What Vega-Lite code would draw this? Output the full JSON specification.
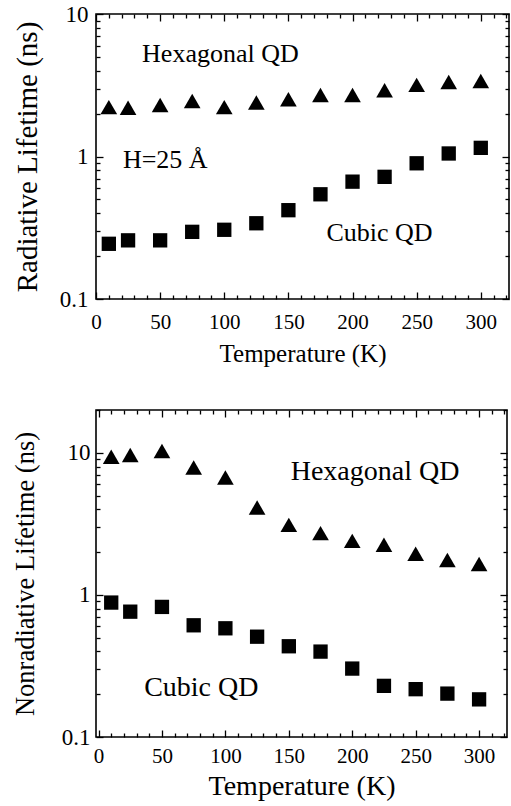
{
  "$schema": "https://vega.github.io/schema/vega-lite/v6.json",
  "background": "white",
  "padding": {"left": 11, "top": 2, "right": 0, "bottom": 0},
  "spacing": 111,
  "bounds": "flush",
  "config": {
    "view": {"stroke": "black", "strokeWidth": 1.6},
    "font": "Liberation Serif",
    "axis": {
      "grid": false,
      "domain": false,
      "tickColor": "black",
      "tickWidth": 1.3,
      "labelColor": "black",
      "titleColor": "black",
      "labelFont": "Liberation Serif",
      "titleFont": "Liberation Serif",
      "titleFontWeight": "normal",
      "labelFlush": false,
      "labelOverlap": false
    },
    "text": {"font": "Liberation Serif", "color": "black"}
  },
  "datasets": {
    "radiative": [
      {"T": 10, "tau": 2.22, "phase": "Hexagonal QD"},
      {"T": 25, "tau": 2.2, "phase": "Hexagonal QD"},
      {"T": 50, "tau": 2.3, "phase": "Hexagonal QD"},
      {"T": 75, "tau": 2.45, "phase": "Hexagonal QD"},
      {"T": 100, "tau": 2.22, "phase": "Hexagonal QD"},
      {"T": 125, "tau": 2.39, "phase": "Hexagonal QD"},
      {"T": 150, "tau": 2.52, "phase": "Hexagonal QD"},
      {"T": 175, "tau": 2.7, "phase": "Hexagonal QD"},
      {"T": 200, "tau": 2.7, "phase": "Hexagonal QD"},
      {"T": 225, "tau": 2.92, "phase": "Hexagonal QD"},
      {"T": 250, "tau": 3.18, "phase": "Hexagonal QD"},
      {"T": 275, "tau": 3.33, "phase": "Hexagonal QD"},
      {"T": 300, "tau": 3.39, "phase": "Hexagonal QD"},
      {"T": 10, "tau": 0.244, "phase": "Cubic QD"},
      {"T": 25, "tau": 0.258, "phase": "Cubic QD"},
      {"T": 50, "tau": 0.258, "phase": "Cubic QD"},
      {"T": 75, "tau": 0.296, "phase": "Cubic QD"},
      {"T": 100, "tau": 0.306, "phase": "Cubic QD"},
      {"T": 125, "tau": 0.34, "phase": "Cubic QD"},
      {"T": 150, "tau": 0.42, "phase": "Cubic QD"},
      {"T": 175, "tau": 0.543, "phase": "Cubic QD"},
      {"T": 200, "tau": 0.666, "phase": "Cubic QD"},
      {"T": 225, "tau": 0.72, "phase": "Cubic QD"},
      {"T": 250, "tau": 0.896, "phase": "Cubic QD"},
      {"T": 275, "tau": 1.05, "phase": "Cubic QD"},
      {"T": 300, "tau": 1.15, "phase": "Cubic QD"}
    ],
    "radiativeNotes": [
      {"T": 97, "tau": 5.2, "note": "Hexagonal QD"},
      {"T": 54, "tau": 0.944, "note": "H=25 Å"},
      {"T": 221, "tau": 0.29, "note": "Cubic QD"}
    ],
    "nonradiative": [
      {"T": 10, "tau": 9.37, "phase": "Hexagonal QD"},
      {"T": 25, "tau": 9.64, "phase": "Hexagonal QD"},
      {"T": 50, "tau": 10.3, "phase": "Hexagonal QD"},
      {"T": 75, "tau": 7.88, "phase": "Hexagonal QD"},
      {"T": 100, "tau": 6.7, "phase": "Hexagonal QD"},
      {"T": 125, "tau": 4.12, "phase": "Hexagonal QD"},
      {"T": 150, "tau": 3.11, "phase": "Hexagonal QD"},
      {"T": 175, "tau": 2.72, "phase": "Hexagonal QD"},
      {"T": 200, "tau": 2.4, "phase": "Hexagonal QD"},
      {"T": 225, "tau": 2.25, "phase": "Hexagonal QD"},
      {"T": 250, "tau": 1.95, "phase": "Hexagonal QD"},
      {"T": 275, "tau": 1.76, "phase": "Hexagonal QD"},
      {"T": 300, "tau": 1.65, "phase": "Hexagonal QD"},
      {"T": 10, "tau": 0.883, "phase": "Cubic QD"},
      {"T": 25, "tau": 0.762, "phase": "Cubic QD"},
      {"T": 50, "tau": 0.823, "phase": "Cubic QD"},
      {"T": 75, "tau": 0.611, "phase": "Cubic QD"},
      {"T": 100, "tau": 0.582, "phase": "Cubic QD"},
      {"T": 125, "tau": 0.508, "phase": "Cubic QD"},
      {"T": 150, "tau": 0.435, "phase": "Cubic QD"},
      {"T": 175, "tau": 0.399, "phase": "Cubic QD"},
      {"T": 200, "tau": 0.303, "phase": "Cubic QD"},
      {"T": 225, "tau": 0.229, "phase": "Cubic QD"},
      {"T": 250, "tau": 0.217, "phase": "Cubic QD"},
      {"T": 275, "tau": 0.202, "phase": "Cubic QD"},
      {"T": 300, "tau": 0.184, "phase": "Cubic QD"}
    ],
    "nonradiativeNotes": [
      {"T": 218, "tau": 7.27, "note": "Hexagonal QD"},
      {"T": 81, "tau": 0.222, "note": "Cubic QD"}
    ]
  },
  "vconcat": [
    {
      "width": 413,
      "height": 285,
      "layer": [
        {
          "data": {"name": "radiative"},
          "mark": {"type": "point", "filled": true, "opacity": 1, "color": "black", "strokeWidth": 0},
          "encoding": {
            "x": {
              "field": "T", "type": "quantitative",
              "scale": {"domain": [0, 322], "nice": false, "zero": false},
              "axis": {
                "orient": "bottom",
                "values": [0, 10, 20, 30, 40, 50, 60, 70, 80, 90, 100, 110, 120, 130, 140, 150, 160, 170, 180, 190, 200, 210, 220, 230, 240, 250, 260, 270, 280, 290, 300, 310, 320],
                "labelExpr": "datum.value % 50 === 0 ? datum.label : ''",
                "tickSize": {"condition": {"test": "datum.value % 50 === 0", "value": -7}, "value": -4},
                "labelPadding": 19,
                "labelFontSize": 21,
                "title": "Temperature (K)",
                "titleFontSize": 25,
                "titlePadding": 6
              }
            },
            "y": {
              "field": "tau", "type": "quantitative",
              "scale": {"type": "log", "domain": [0.1, 10], "nice": false},
              "axis": {
                "orient": "left",
                "values": [0.1, 0.2, 0.3, 0.4, 0.5, 0.6, 0.7, 0.8, 0.9, 1, 2, 3, 4, 5, 6, 7, 8, 9, 10],
                "format": "~g",
                "labelExpr": "datum.value === 0.1 || datum.value === 1 || datum.value === 10 ? datum.label : ''",
                "tickSize": {"condition": {"test": "datum.value === 0.1 || datum.value === 1 || datum.value === 10", "value": -7}, "value": -4},
                "labelPadding": 15,
                "labelFontSize": 23,
                "title": "Radiative Lifetime (ns)",
                "titleFontSize": 29,
                "titlePadding": 17
              }
            },
            "shape": {
              "field": "phase", "type": "nominal",
              "scale": {"domain": ["Hexagonal QD", "Cubic QD"], "range": ["triangle-up", "square"]},
              "legend": null
            },
            "size": {
              "field": "phase", "type": "nominal",
              "scale": {"domain": ["Hexagonal QD", "Cubic QD"], "range": [278, 205]},
              "legend": null
            }
          }
        },
        {
          "data": {"name": "radiativeNotes"},
          "mark": {"type": "text", "align": "center", "baseline": "middle", "fontSize": 26},
          "encoding": {
            "x": {
              "field": "T", "type": "quantitative",
              "axis": {
                "orient": "top",
                "values": [0, 10, 20, 30, 40, 50, 60, 70, 80, 90, 100, 110, 120, 130, 140, 150, 160, 170, 180, 190, 200, 210, 220, 230, 240, 250, 260, 270, 280, 290, 300, 310, 320],
                "labels": false,
                "tickSize": {"condition": {"test": "datum.value % 50 === 0", "value": -7}, "value": -4},
                "title": null
              }
            },
            "y": {
              "field": "tau", "type": "quantitative",
              "axis": {
                "orient": "right",
                "values": [0.1, 0.2, 0.3, 0.4, 0.5, 0.6, 0.7, 0.8, 0.9, 1, 2, 3, 4, 5, 6, 7, 8, 9, 10],
                "labels": false,
                "tickSize": {"condition": {"test": "datum.value === 0.1 || datum.value === 1 || datum.value === 10", "value": -7}, "value": -4},
                "title": null
              }
            },
            "text": {"field": "note", "type": "nominal"}
          }
        }
      ],
      "resolve": {"axis": {"x": "independent", "y": "independent"}}
    },
    {
      "width": 411,
      "height": 327,
      "layer": [
        {
          "data": {"name": "nonradiative"},
          "mark": {"type": "point", "filled": true, "opacity": 1, "color": "black", "strokeWidth": 0},
          "encoding": {
            "x": {
              "field": "T", "type": "quantitative",
              "scale": {"domain": [-2, 322], "nice": false, "zero": false},
              "axis": {
                "orient": "bottom",
                "values": [0, 10, 20, 30, 40, 50, 60, 70, 80, 90, 100, 110, 120, 130, 140, 150, 160, 170, 180, 190, 200, 210, 220, 230, 240, 250, 260, 270, 280, 290, 300, 310, 320],
                "labelExpr": "datum.value % 50 === 0 ? datum.label : ''",
                "tickSize": {"condition": {"test": "datum.value % 50 === 0", "value": -7}, "value": -4},
                "labelPadding": 15,
                "labelFontSize": 21,
                "title": "Temperature (K)",
                "titleFontSize": 28,
                "titlePadding": 3
              }
            },
            "y": {
              "field": "tau", "type": "quantitative",
              "scale": {"type": "log", "domain": [0.1, 20], "nice": false},
              "axis": {
                "orient": "left",
                "values": [0.1, 0.2, 0.3, 0.4, 0.5, 0.6, 0.7, 0.8, 0.9, 1, 2, 3, 4, 5, 6, 7, 8, 9, 10, 20],
                "format": "~g",
                "labelExpr": "datum.value === 0.1 || datum.value === 1 || datum.value === 10 ? datum.label : ''",
                "tickSize": {"condition": {"test": "datum.value === 0.1 || datum.value === 1 || datum.value === 10", "value": -7}, "value": -4},
                "labelPadding": 13,
                "labelFontSize": 23,
                "title": "Nonradiative Lifetime (ns)",
                "titleFontSize": 26.5,
                "titlePadding": 22
              }
            },
            "shape": {
              "field": "phase", "type": "nominal",
              "scale": {"domain": ["Hexagonal QD", "Cubic QD"], "range": ["triangle-up", "square"]},
              "legend": null
            },
            "size": {
              "field": "phase", "type": "nominal",
              "scale": {"domain": ["Hexagonal QD", "Cubic QD"], "range": [278, 200]},
              "legend": null
            }
          }
        },
        {
          "data": {"name": "nonradiativeNotes"},
          "mark": {"type": "text", "align": "center", "baseline": "middle", "fontSize": 28},
          "encoding": {
            "x": {
              "field": "T", "type": "quantitative",
              "axis": {
                "orient": "top",
                "values": [0, 10, 20, 30, 40, 50, 60, 70, 80, 90, 100, 110, 120, 130, 140, 150, 160, 170, 180, 190, 200, 210, 220, 230, 240, 250, 260, 270, 280, 290, 300, 310, 320],
                "labels": false,
                "tickSize": {"condition": {"test": "datum.value % 50 === 0", "value": -7}, "value": -4},
                "title": null
              }
            },
            "y": {
              "field": "tau", "type": "quantitative",
              "axis": {
                "orient": "right",
                "values": [0.1, 0.2, 0.3, 0.4, 0.5, 0.6, 0.7, 0.8, 0.9, 1, 2, 3, 4, 5, 6, 7, 8, 9, 10, 20],
                "labels": false,
                "tickSize": {"condition": {"test": "datum.value === 0.1 || datum.value === 1 || datum.value === 10", "value": -7}, "value": -4},
                "title": null
              }
            },
            "text": {"field": "note", "type": "nominal"}
          }
        }
      ],
      "resolve": {"axis": {"x": "independent", "y": "independent"}}
    }
  ]
}
